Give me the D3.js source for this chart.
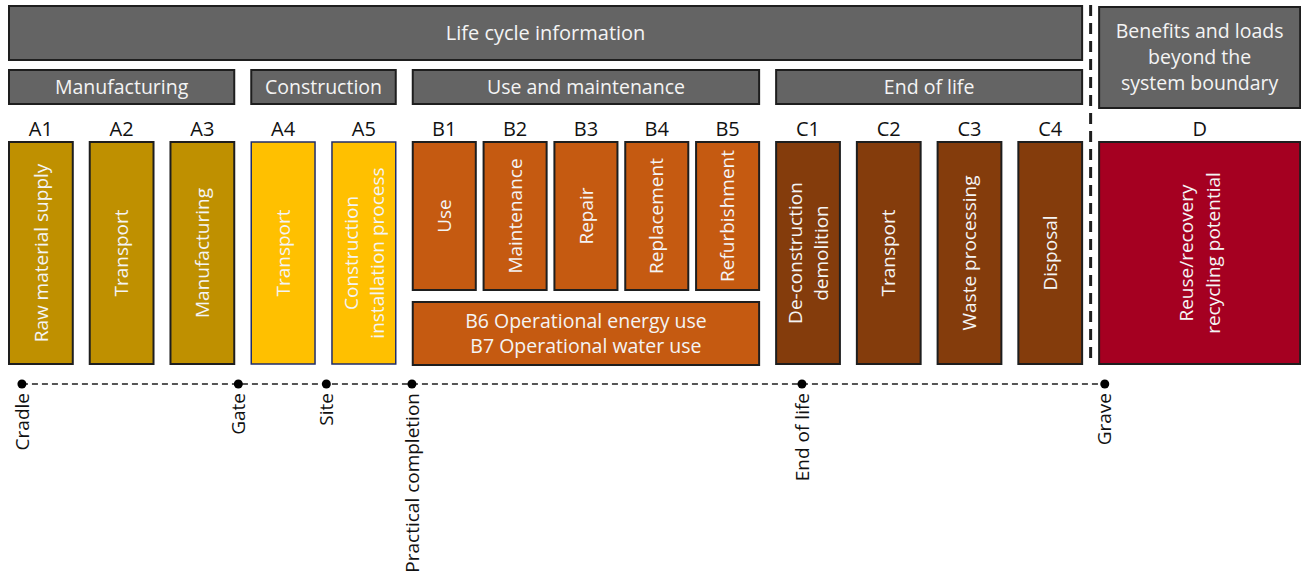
<!DOCTYPE html>
<html>
<head>
<meta charset="utf-8">
<script src="https://cdn.jsdelivr.net/npm/d3@7"></script>
<style>
  body { margin: 0; background: #fff; }
  svg { display: block; font-family: "Open Sans", sans-serif; }
</style>
</head>
<body>
<div id="chart"></div>
<script>
// --- data ---
const stageTitle = 'Life cycle information';
const beyondTitle = ['Benefits and loads', 'beyond the', 'system boundary'];
const groupNames = ['Manufacturing', 'Construction', 'Use and maintenance', 'End of life'];
const moduleCodes = ['A1', 'A2', 'A3', 'A4', 'A5', 'B1', 'B2', 'B3', 'B4', 'B5', 'C1', 'C2', 'C3', 'C4'];
const moduleGroups = [0, 0, 0, 1, 1, 2, 2, 2, 2, 2, 3, 3, 3, 3];
const moduleLabels = [
  ['Raw material supply'], ['Transport'], ['Manufacturing'],
  ['Transport'], ['Construction', 'installation process'],
  ['Use'], ['Maintenance'], ['Repair'], ['Replacement'], ['Refurbishment'],
  ['De-construction', 'demolition'], ['Transport'], ['Waste processing'], ['Disposal']
];
const operationalLabels = ['B6 Operational energy use', 'B7 Operational water use'];
const beyondCode = 'D';
const beyondLabel = ['Reuse/recovery', 'recycling potential'];
const milestoneNames = ['Cradle', 'Gate', 'Site', 'Practical completion', 'End of life', 'Grave'];
const milestoneAt = [0.16, 2.84, 3.93, 4.99, 9.82, 13.57]; // in column units

// --- layout / style ---
const width = 1301, height = 578;
const groupSpan = [3, 2, 4.5, 4, 2.7]; // last one is module D
const gap = 17;
const groupFill = ['#bf9000', '#ffc000', '#c55a11', '#843c0c'];
const groupStroke = ['#1e1e1e', '#1f2d6b', '#1e1e1e', '#1e1e1e'];
const headFill = '#646464';
const ink = '#1e1e1e';
const light = '#f4f4f4';

const starts = [];
groupSpan.reduce((acc, s) => { starts.push(acc); return acc + s; }, 0);
const total = d3.sum(groupSpan);

const x = d3.scaleLinear().domain([0, total]).range([9, 9 + total * 80.75]);
const groupX0 = i => x(starts[i]);
const groupX1 = i => x(starts[i] + groupSpan[i]) - gap;

const y = {
  topHead: [6, 60], groupHead: [70, 104], code: 129,
  box: [142, 364], bUpper: [142, 290], bLower: [302, 365],
  line: 384, beyondHead: [7, 108]
};

const svg = d3.select('#chart').append('svg')
  .attr('width', width).attr('height', height);

function box(g, x0, x1, y0, y1, fill, stroke, sw) {
  return g.append('rect')
    .attr('x', x0).attr('y', y0)
    .attr('width', x1 - x0).attr('height', y1 - y0)
    .attr('fill', fill).attr('stroke', stroke).attr('stroke-width', sw || 2);
}

// horizontal multi-line text centered at (cx, cy)
function hText(g, lines, cx, cy, size, lh, color) {
  const t = g.append('text')
    .attr('text-anchor', 'middle')
    .attr('font-size', size)
    .attr('fill', color);
  const off = -(lines.length - 1) / 2 * lh;
  lines.forEach((l, i) => {
    t.append('tspan').attr('x', cx).attr('y', cy + off + i * lh).attr('dy', '0.35em').text(l);
  });
  return t;
}

// vertical (rotated) multi-line text centered at (cx, cy)
function vText(g, lines, cx, cy, size, lh, color) {
  const t = g.append('text')
    .attr('transform', `translate(${cx},${cy}) rotate(-90)`)
    .attr('text-anchor', 'middle')
    .attr('font-size', size)
    .attr('fill', color);
  const off = -(lines.length - 1) / 2 * lh;
  lines.forEach((l, i) => {
    t.append('tspan').attr('x', 0).attr('y', off + i * lh).attr('dy', '0.35em').text(l);
  });
  return t;
}

// top header
const head = svg.append('g');
box(head, groupX0(0), groupX1(3), y.topHead[0], y.topHead[1], headFill, ink);
hText(head, [stageTitle], (groupX0(0) + groupX1(3)) / 2, (y.topHead[0] + y.topHead[1]) / 2, 20, 0, light);

// beyond boundary header
box(head, groupX0(4), groupX1(4), y.beyondHead[0], y.beyondHead[1], headFill, ink);
hText(head, beyondTitle, (groupX0(4) + groupX1(4)) / 2, (y.beyondHead[0] + y.beyondHead[1]) / 2, 19.5, 26, light);

// group headers
groupNames.forEach((name, i) => {
  box(head, groupX0(i), groupX1(i), y.groupHead[0], y.groupHead[1], headFill, ink);
  hText(head, [name], (groupX0(i) + groupX1(i)) / 2, (y.groupHead[0] + y.groupHead[1]) / 2, 19.5, 0, light);
});

// modules
const mods = svg.append('g');
groupNames.forEach((name, gi) => {
  const idx = moduleCodes.map((c, i) => i).filter(i => moduleGroups[i] === gi);
  const band = d3.scaleBand()
    .domain(idx)
    .range([groupX0(gi), groupX1(gi)])
    .paddingInner(gi === 2 ? 0.11 : 0.21)
    .paddingOuter(0);

  idx.forEach(i => {
    const bx = band(i), bw = band.bandwidth();
    const yy = gi === 2 ? y.bUpper : y.box;
    box(mods, bx, bx + bw, yy[0], yy[1], groupFill[gi], groupStroke[gi], gi === 1 ? 1.5 : 2);
    hText(mods, [moduleCodes[i]], bx + bw / 2, y.code, 20, 0, '#111');
    vText(mods, moduleLabels[i], bx + bw / 2, (yy[0] + yy[1]) / 2, 19, 26, light);
  });

  if (gi === 2) {
    box(mods, groupX0(gi), groupX1(gi), y.bLower[0], y.bLower[1], groupFill[gi], ink);
    hText(mods, operationalLabels, (groupX0(gi) + groupX1(gi)) / 2, (y.bLower[0] + y.bLower[1]) / 2, 19.5, 25, light);
  }
});

// module D
const dx0 = groupX0(4), dx1 = groupX1(4);
box(mods, dx0, dx1, y.box[0], y.box[1], '#a50021', ink);
hText(mods, [beyondCode], (dx0 + dx1) / 2, y.code, 20, 0, '#111');
vText(mods, beyondLabel, (dx0 + dx1) / 2, (y.box[0] + y.box[1]) / 2, 19, 27, light);

// system boundary dashed line
const sepX = (groupX1(3) + groupX0(4)) / 2;
svg.append('line')
  .attr('x1', sepX).attr('x2', sepX)
  .attr('y1', 5).attr('y2', 365)
  .attr('stroke', ink).attr('stroke-width', 3)
  .attr('stroke-dasharray', '11,7');

// timeline
const tl = svg.append('g');
tl.append('line')
  .attr('x1', x(milestoneAt[0])).attr('x2', x(milestoneAt[milestoneAt.length - 1]))
  .attr('y1', y.line).attr('y2', y.line)
  .attr('stroke', '#555').attr('stroke-width', 2)
  .attr('stroke-dasharray', '6,4');

tl.selectAll('circle')
  .data(milestoneAt)
  .join('circle')
  .attr('cx', d => x(d)).attr('cy', y.line).attr('r', 4.5)
  .attr('fill', '#000');

tl.selectAll('text')
  .data(milestoneNames)
  .join('text')
  .attr('transform', (d, i) => `translate(${x(milestoneAt[i])},${y.line + 9}) rotate(-90)`)
  .attr('text-anchor', 'end')
  .attr('dy', '0.35em')
  .attr('font-size', 19)
  .attr('fill', '#111')
  .text(d => d);
</script>
</body>
</html>
